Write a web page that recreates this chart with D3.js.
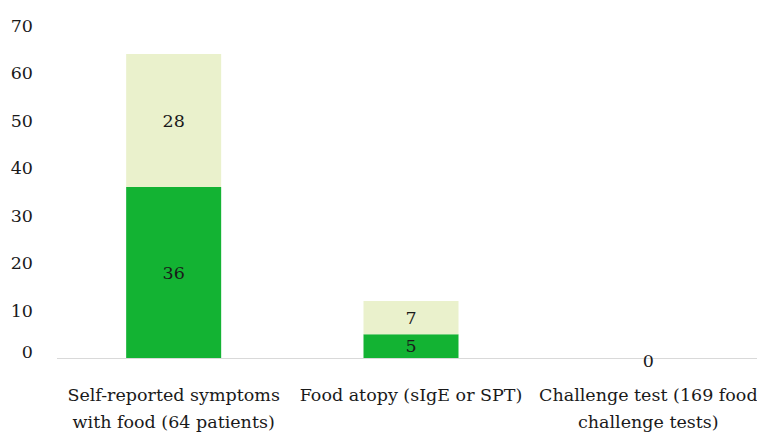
<!DOCTYPE html>
<html>
<head>
<meta charset="utf-8">
<script src="https://cdn.jsdelivr.net/npm/d3@7"></script>
<style>
  html, body { margin: 0; padding: 0; background: #fff; }
  svg { display: block; }
  svg text { font-family: "DejaVu Serif", serif; }
</style>
</head>
<body>
<svg id="chart" width="757" height="435"></svg>
<script>
// Categories (each label split over two lines)
const categories = [
  "Self-reported symptoms with food (64 patients)",
  "Food atopy (sIgE or SPT)",
  "Challenge test (169 food challenge tests)"
];
const categoryLines = [
  ["Self-reported symptoms", "with food (64 patients)"],
  ["Food atopy (sIgE or SPT)"],
  ["Challenge test (169 food", "challenge tests)"]
];
// Stacked series: lower (dark) and upper (light) segments
const confirmed = [36, 5, 0];
const notConfirmed = [28, 7, 0];
const yTicks = [0, 10, 20, 30, 40, 50, 60, 70];

const FONT = "DejaVu Serif, serif";
const FS = 17.5;

const svg = d3.select("#chart");
const W = 757, H = 435;
const margin = { left: 55, right: -10, top: 25.5, bottom: 77 };

const x = d3.scaleBand()
  .domain(categories)
  .range([margin.left, W - margin.right])
  .paddingInner(0.6)
  .paddingOuter(0.3);

const y = d3.scaleLinear()
  .domain([0, 70])
  .range([H - margin.bottom, margin.top]);

const rows = categories.map((c, i) => ({ cat: c, confirmed: confirmed[i], notConfirmed: notConfirmed[i] }));
const stack = d3.stack().keys(["confirmed", "notConfirmed"]);
const series = stack(rows);
const colors = { confirmed: "#13b333", notConfirmed: "#eaf1cc" };

// Baseline
svg.append("line")
  .attr("x1", 57).attr("x2", W)
  .attr("y1", y(0) + 0.5).attr("y2", y(0) + 0.5)
  .attr("stroke", "#d9d9d9").attr("stroke-width", 1.2);

// Bars
const bw = 95;
series.forEach(s => {
  svg.append("g").selectAll("rect")
    .data(s)
    .join("rect")
    .attr("x", d => x(d.data.cat) + x.bandwidth() / 2 - bw / 2)
    .attr("width", bw)
    .attr("y", d => y(d[1]))
    .attr("height", d => y(d[0]) - y(d[1]))
    .attr("fill", colors[s.key]);
});

// Segment value labels
series.forEach(s => {
  svg.append("g").selectAll("text")
    .data(s.filter(d => d[1] - d[0] > 0))
    .join("text")
    .attr("x", d => x(d.data.cat) + x.bandwidth() / 2)
    .attr("y", d => (y(d[0]) + y(d[1])) / 2)
    .attr("dy", "0.35em")
    .attr("text-anchor", "middle")
    .attr("font-family", FONT)
    .attr("font-size", FS)
    .attr("fill", "#1a1a1a")
    .text(d => d[1] - d[0]);
});

// Zero-total label at the baseline
svg.append("g").selectAll("text")
  .data(rows.filter(r => r.confirmed + r.notConfirmed === 0))
  .join("text")
  .attr("x", d => x(d.cat) + x.bandwidth() / 2)
  .attr("y", y(0) + 3)
  .attr("dy", "0.35em")
  .attr("text-anchor", "middle")
  .attr("font-family", FONT)
  .attr("font-size", FS)
  .attr("fill", "#1a1a1a")
  .text(d => d.confirmed + d.notConfirmed);

// Y axis labels
const yAxis = d3.axisLeft(y).tickValues(yTicks).tickSize(0).tickPadding(0);
const gy = svg.append("g")
  .attr("transform", "translate(33,0)")
  .call(yAxis)
  .attr("font-family", FONT)
  .attr("font-size", FS);
gy.select(".domain").remove();
gy.selectAll(".tick text")
  .attr("font-family", FONT)
  .attr("font-size", FS)
  .attr("fill", "#1a1a1a")
  .attr("dy", d => d === 0 ? "-0.05em" : "0.32em");

// Category labels
const gx = svg.append("g");
categories.forEach((c, i) => {
  const t = gx.append("text")
    .attr("x", x(c) + x.bandwidth() / 2)
    .attr("y", 401)
    .attr("text-anchor", "middle")
    .attr("font-family", FONT)
    .attr("font-size", FS)
    .attr("fill", "#1a1a1a");
  categoryLines[i].forEach((ln, j) => {
    t.append("tspan")
      .attr("x", x(c) + x.bandwidth() / 2)
      .attr("dy", j === 0 ? 0 : 26.5)
      .text(ln);
  });
});
</script>
</body>
</html>
